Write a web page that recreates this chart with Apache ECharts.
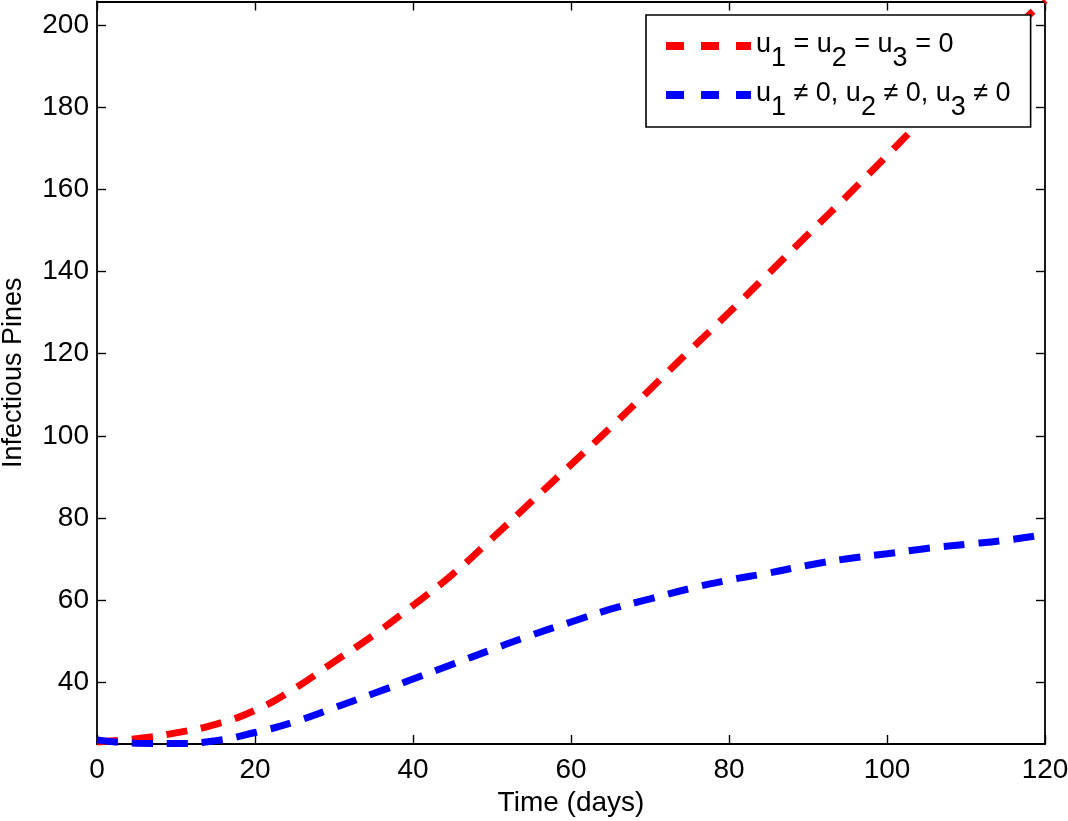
<!DOCTYPE html>
<html>
<head>
<meta charset="utf-8">
<script src="https://cdn.jsdelivr.net/npm/echarts@6/dist/echarts.min.js"></script>
<style>
  html, body { margin: 0; padding: 0; background: #fff; }
  #chart { width: 1068px; height: 821px; }
</style>
</head>
<body>
<div id="chart"></div>
<script>
// time in days
const days = [0, 5, 10, 15, 20, 25, 30, 35, 40, 45, 50, 55, 60,
  65, 70, 75, 80, 85, 90, 95, 100, 105, 110, 115, 120];
// no control
const noControl = [25.5, 26.3, 27.7, 29.8, 33.2, 38.5, 45, 51.5, 58.7, 66.3, 75, 84, 93,
  102, 111.3, 120.7, 130, 139.5, 149, 158.5, 168.2, 178, 187.5, 197, 206];
// with controls
const withControl = [26, 25.2, 25.1, 25.8, 27.8, 30.4, 33.8, 37.3, 40.8, 44.4, 48, 51.5, 54.7,
  57.8, 60.3, 62.8, 64.9, 66.6, 68.5, 70.1, 71.3, 72.6, 73.6, 74.6, 76];
const yTicks = [40, 60, 80, 100, 120, 140, 160, 180, 200];

const font = "'Liberation Sans', Arial, sans-serif";

const chart = echarts.init(document.getElementById("chart"));

const pair = (xs, ys) => xs.map((x, i) => [x, ys[i]]);

const frameAxis = {
  axisLine: { show: true, onZero: false, lineStyle: { color: "#000", width: 1.8 } },
  axisTick: { show: true, inside: true, length: 9, lineStyle: { color: "#000", width: 1.4 } },
  splitLine: { show: false },
};

const legendNames = {
  a: "u1 = u2 = u3 = 0",
  b: "u1 ≠ 0, u2 ≠ 0, u3 ≠ 0",
};

const options = {
  animation: false,
  backgroundColor: "#fff",
  grid: { left: 97, right: 23, top: 1.5, bottom: 77, outerBoundsMode: "none", containLabel: false },
  legend: {
    orient: "vertical",
    left: 646,
    top: 15,
    padding: [16, 20, 6, 16],
    itemGap: 8,
    itemWidth: 85,
    itemHeight: 8,
    borderColor: "#000",
    borderWidth: 1.6,
    backgroundColor: "#fff",
    data: [legendNames.a, legendNames.b],
    lineStyle: { width: 8, type: [18, 17], cap: "butt" },
    itemStyle: { opacity: 0 },
    formatter: (name) =>
      name.replace(/u(\d)/g, "{n|u}{s|$1}").replace(/(^|\})([^{}]+)(?=\{|$)/g, "$1{n|$2}"),
    textStyle: {
      fontFamily: font,
      fontSize: 27,
      color: "#000",
      rich: {
        n: { fontFamily: font, fontSize: 27, color: "#000", lineHeight: 30, verticalAlign: "top" },
        s: { fontFamily: font, fontSize: 27, color: "#000", lineHeight: 30, verticalAlign: "top", padding: [14, 0, 0, 0] },
      },
    },
  },
  xAxis: [
    {
      type: "value",
      min: 0,
      max: 120,
      interval: 20,
      name: "Time (days)",
      nameLocation: "middle",
      nameGap: 37,
      nameTextStyle: { fontFamily: font, fontSize: 28, color: "#000" },
      axisLabel: { fontFamily: font, fontSize: 28, color: "#000", margin: 12 },
      ...frameAxis,
    },
    {
      type: "value",
      position: "top",
      min: 0,
      max: 120,
      interval: 20,
      axisLabel: { show: false },
      ...frameAxis,
    },
  ],
  yAxis: [
    {
      type: "value",
      min: 25,
      max: 205.7,
      name: "Infectious Pines",
      nameLocation: "middle",
      nameGap: 70,
      nameTextStyle: { fontFamily: font, fontSize: 27, color: "#000" },
      axisLabel: { fontFamily: font, fontSize: 28, color: "#000", margin: 8, customValues: yTicks },
      ...frameAxis,
      axisTick: { ...frameAxis.axisTick, customValues: yTicks },
    },
    {
      type: "value",
      position: "right",
      min: 25,
      max: 205.7,
      axisLabel: { show: false, customValues: yTicks },
      ...frameAxis,
      axisTick: { ...frameAxis.axisTick, customValues: yTicks },
    },
  ],
  series: [
    {
      name: legendNames.a,
      type: "line",
      data: pair(days, noControl),
      smooth: true,
      showSymbol: false,
      symbol: "none",
      lineStyle: { color: "#ff0000", width: 7, type: [21, 14], cap: "butt" },
      itemStyle: { color: "#ff0000" },
    },
    {
      name: legendNames.b,
      type: "line",
      data: pair(days, withControl),
      smooth: true,
      showSymbol: false,
      symbol: "none",
      lineStyle: { color: "#0000ff", width: 7, type: [21, 14], cap: "butt" },
      itemStyle: { color: "#0000ff" },
    },
  ],
};

chart.setOption(options);
</script>
</body>
</html>
